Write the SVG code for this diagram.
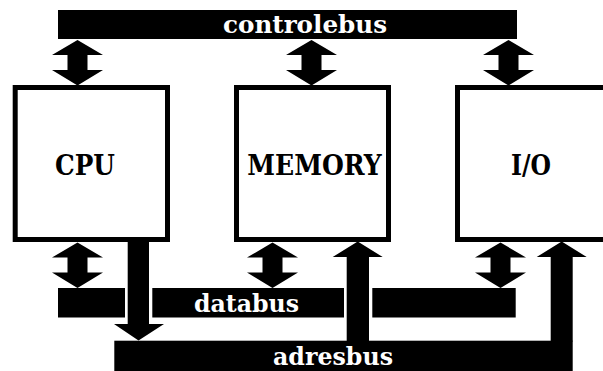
<svg xmlns="http://www.w3.org/2000/svg" xmlns:xlink="http://www.w3.org/1999/xlink" width="603" height="371" viewBox="0 0 603 371">
  <style>
    .box { fill: #ffffff; stroke: #000000; stroke-width: 5; }
    .bus { fill: #000000; }
    .arrow { fill: #000000; }
    .label { font-family: "DejaVu Serif", "Liberation Serif", serif; font-weight: bold; fill: #000000; font-size: 27px; }
    .buslabel { font-family: "DejaVu Serif", "Liberation Serif", serif; font-weight: bold; fill: #ffffff; font-size: 24px; }
  </style>
  <defs>
    <!-- bidirectional arrow, tip at origin, pointing up and down -->
    <path id="dbl" d="M0,0 L25.5,15 L10,15 L10,30 L25.5,30 L0,45.5 L-25.5,30 L-10,30 L-10,15 L-25.5,15 Z"/>
  </defs>
  <rect width="603" height="371" fill="#ffffff"/>

  <g id="connectors">
    <!-- control bus -->
    <rect class="bus" x="58" y="10" width="459" height="29"/>
    <text class="buslabel" x="223" y="32.5" textLength="164" lengthAdjust="spacingAndGlyphs">controlebus</text>
    <use xlink:href="#dbl" class="arrow" x="77.5" y="40"/>
    <use xlink:href="#dbl" class="arrow" x="311.5" y="40"/>
    <use xlink:href="#dbl" class="arrow" x="508.5" y="40"/>

    <!-- data bus (interrupted where address lines cross) -->
    <rect class="bus" x="58" y="288" width="67" height="29.5"/>
    <rect class="bus" x="152.3" y="288" width="191.7" height="29.5"/>
    <rect class="bus" x="372.3" y="288" width="143.4" height="29.5"/>
    <text class="buslabel" x="194" y="312" textLength="105" lengthAdjust="spacingAndGlyphs">databus</text>
    <use xlink:href="#dbl" class="arrow" x="77.5" y="242.5"/>
    <use xlink:href="#dbl" class="arrow" x="272.5" y="242.5"/>
    <use xlink:href="#dbl" class="arrow" x="500.5" y="242.5"/>

    <!-- address bus -->
    <rect class="bus" x="114.3" y="340.7" width="458.4" height="31"/>
    <text class="buslabel" x="273" y="365" textLength="120" lengthAdjust="spacingAndGlyphs">adresbus</text>
    <!-- CPU drives the address bus -->
    <path class="arrow" d="M127.7,241 L149,241 L149,324 L164,324 L138.5,340.5 L114,324 L127.7,324 Z"/>
    <!-- address bus into memory -->
    <path class="arrow" d="M357.7,241.5 L382.7,257 L369,257 L369,341.5 L346.7,341.5 L346.7,257 L332.7,257 Z"/>
    <!-- address bus into I/O -->
    <path class="arrow" d="M561.7,241.5 L586.7,257 L572.7,257 L572.7,341.5 L550.7,341.5 L550.7,257 L536.7,257 Z"/>
  </g>

  <g id="cpu">
    <rect class="box" x="15.2" y="87.5" width="152.3" height="152"/>
    <text class="label" x="55" y="175" textLength="60" lengthAdjust="spacingAndGlyphs">CPU</text>
  </g>

  <g id="memory">
    <rect class="box" x="236.5" y="87.5" width="152" height="152"/>
    <text class="label" x="247.3" y="175" textLength="134.4" lengthAdjust="spacingAndGlyphs">MEMORY</text>
  </g>

  <g id="io">
    <rect class="box" x="457.5" y="87.5" width="160" height="152"/>
    <text class="label" x="511" y="175" textLength="40" lengthAdjust="spacingAndGlyphs">I/O</text>
  </g>
</svg>
